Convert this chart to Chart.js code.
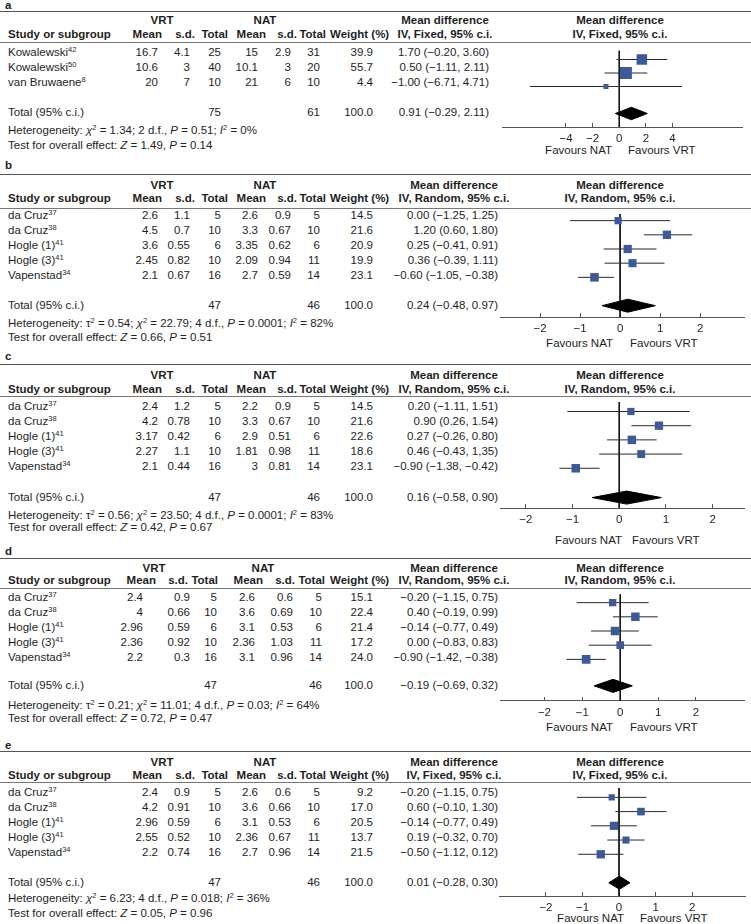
<!DOCTYPE html>
<html>
<head>
<meta charset="utf-8">
<script src="https://cdn.jsdelivr.net/npm/chart.js@4.4.0/dist/chart.umd.min.js"></script>
<style>
body { margin: 0; background: #fff; }
#page { position: relative; width: 751px; height: 924px; overflow: hidden;
  font-family: "Liberation Sans", Arial, sans-serif; font-size: 11.5px; color: #1e1e1e; }
.t { position: absolute; white-space: nowrap; line-height: 14px; height: 14px; }
.b { font-weight: bold; }
.t sup { font-size: 7.5px; line-height: 0; vertical-align: 4px; }
.rule { position: absolute; left: 0; width: 751px; }
.plot { position: absolute; left: 494px; width: 257px; }
</style>
</head>
<body>
<div id="page"></div>
<script>
// ---- data ----
const studiesA = ["Kowalewski", "Kowalewski", "van Bruwaene"];
const refsA = ["42", "50", "8"];
const vrtA = [["16.7", "4.1", "25"], ["10.6", "3", "40"], ["20", "7", "10"]];
const natA = [["15", "2.9", "31"], ["10.1", "3", "20"], ["21", "6", "10"]];
const weightA = [39.9, 55.7, 4.4];
const mdTxtA = ["1.70 (−0.20, 3.60)", "0.50 (−1.11, 2.11)", "−1.00 (−6.71, 4.71)", "0.91 (−0.29, 2.11)"];
const mdA = [1.70, 0.50, -1.00];
const loA = [-0.20, -1.11, -6.71];
const hiA = [3.60, 2.11, 4.71];
const totalA = [0.91, -0.29, 2.11];
const nA = ["75", "61"];
const hetA = 'Heterogeneity: <i>χ</i><sup>2</sup> = 1.34; 2 d.f., <i>P</i> = 0.51; <i>I</i><sup>2</sup> = 0%';
const testA = 'Test for overall effect: <i>Z</i> = 1.49, <i>P</i> = 0.14';
const ticksA = [-4, -2, 0, 2, 4];

const studies5 = ["da Cruz", "da Cruz", "Hogle (1)", "Hogle (3)", "Vapenstad"];
const refs5 = ["37", "38", "41", "41", "34"];
const n5 = ["47", "46"];
const ticks5 = [-2, -1, 0, 1, 2];

const vrtB = [["2.6", "1.1", "5"], ["4.5", "0.7", "10"], ["3.6", "0.55", "6"], ["2.45", "0.82", "10"], ["2.1", "0.67", "16"]];
const natB = [["2.6", "0.9", "5"], ["3.3", "0.67", "10"], ["3.35", "0.62", "6"], ["2.09", "0.94", "11"], ["2.7", "0.59", "14"]];
const weightB = [14.5, 21.6, 20.9, 19.9, 23.1];
const mdTxtB = ["0.00 (−1.25, 1.25)", "1.20 (0.60, 1.80)", "0.25 (−0.41, 0.91)", "0.36 (−0.39, 1.11)", "−0.60 (−1.05, −0.38)", "0.24 (−0.48, 0.97)"];
const mdB = [-0.05, 1.17, 0.19, 0.31, -0.64];
const loB = [-1.25, 0.60, -0.41, -0.39, -1.05];
const hiB = [1.25, 1.80, 0.91, 1.11, -0.15];
const totalB = [0.19, -0.45, 0.88];
const hetB = 'Heterogeneity: τ<sup>2</sup> = 0.54; <i>χ</i><sup>2</sup> = 22.79; 4 d.f., <i>P</i> = 0.0001; <i>I</i><sup>2</sup> = 82%';
const testB = 'Test for overall effect: <i>Z</i> = 0.66, <i>P</i> = 0.51';

const vrtC = [["2.4", "1.2", "5"], ["4.2", "0.78", "10"], ["3.17", "0.42", "6"], ["2.27", "1.1", "10"], ["2.1", "0.44", "16"]];
const natC = [["2.2", "0.9", "5"], ["3.3", "0.67", "10"], ["2.9", "0.51", "6"], ["1.81", "0.98", "11"], ["3", "0.81", "14"]];
const weightC = [14.5, 21.6, 22.6, 18.6, 23.1];
const mdTxtC = ["0.20 (−1.11, 1.51)", "0.90 (0.26, 1.54)", "0.27 (−0.26, 0.80)", "0.46 (−0.43, 1,35)", "−0.90 (−1.38, −0.42)", "0.16 (−0.58, 0.90)"];
const mdC = [0.25, 0.85, 0.27, 0.47, -0.93];
const loC = [-1.11, 0.26, -0.26, -0.43, -1.28];
const hiC = [1.51, 1.54, 0.80, 1.35, -0.42];
const totalC = [0.16, -0.58, 0.90];
const hetC = 'Heterogeneity: τ<sup>2</sup> = 0.56; <i>χ</i><sup>2</sup> = 23.50; 4 d.f., <i>P</i> = 0.0001; <i>I</i><sup>2</sup> = 83%';
const testC = 'Test for overall effect: <i>Z</i> = 0.42, <i>P</i> = 0.67';

const vrtD = [["2.4", "0.9", "5"], ["4", "0.66", "10"], ["2.96", "0.59", "6"], ["2.36", "0.92", "10"], ["2.2", "0.3", "16"]];
const natD = [["2.6", "0.6", "5"], ["3.6", "0.69", "10"], ["3.1", "0.53", "6"], ["2.36", "1.03", "11"], ["3.1", "0.96", "14"]];
const weightD = [15.1, 22.4, 21.4, 17.2, 24.0];
const mdTxtD = ["−0.20 (−1.15, 0.75)", "0.40 (−0.19, 0.99)", "−0.14 (−0.77, 0.49)", "0.00 (−0.83, 0.83)", "−0.90 (−1.42, −0.38)", "−0.19 (−0.69, 0.32)"];
const mdD = [-0.20, 0.40, -0.14, 0.00, -0.90];
const loD = [-1.15, -0.19, -0.77, -0.83, -1.42];
const hiD = [0.75, 0.99, 0.49, 0.83, -0.38];
const totalD = [-0.19, -0.69, 0.32];
const hetD = 'Heterogeneity: τ<sup>2</sup> = 0.21; <i>χ</i><sup>2</sup> = 11.01; 4 d.f., <i>P</i> = 0.03; <i>I</i><sup>2</sup> = 64%';
const testD = 'Test for overall effect: <i>Z</i> = 0.72, <i>P</i> = 0.47';

const vrtE = [["2.4", "0.9", "5"], ["4.2", "0.91", "10"], ["2.96", "0.59", "6"], ["2.55", "0.52", "10"], ["2.2", "0.74", "16"]];
const natE = [["2.6", "0.6", "5"], ["3.6", "0.66", "10"], ["3.1", "0.53", "6"], ["2.36", "0.67", "11"], ["2.7", "0.96", "14"]];
const weightE = [9.2, 17.0, 20.5, 13.7, 21.5];
const mdTxtE = ["−0.20 (−1.15, 0.75)", "0.60 (−0.10, 1.30)", "−0.14 (−0.77, 0.49)", "0.19 (−0.32, 0.70)", "−0.50 (−1.12, 0.12)", "0.01 (−0.28, 0.30)"];
const mdE = [-0.20, 0.60, -0.14, 0.19, -0.50];
const loE = [-1.15, -0.10, -0.77, -0.32, -1.12];
const hiE = [0.75, 1.30, 0.49, 0.70, 0.12];
const totalE = [0.01, -0.28, 0.30];
const hetE = 'Heterogeneity: <i>χ</i><sup>2</sup> = 6.23; 4 d.f., <i>P</i> = 0.018; <i>I</i><sup>2</sup> = 36%';
const testE = 'Test for overall effect: <i>Z</i> = 0.05, <i>P</i> = 0.96';

// ---- page positions (px) ----
// value columns are right edges; the last header (Weight) is a left edge
const COLS = [158, 190, 221, 258, 291, 320, 373];
const HDRS = [162, 195, 228, 266, 297, 326, 330];
const LAYOUT = [
  { letterY: 5, topRule: 12, vrtY: 20, hdrY: 34, hdrRule: 42, row0: 52, totalY: 112, hetY: 130, testY: 145,
    axisY: 127, favY: 150, natR: 612, vrtL: 628, xMin: -8.77, xMax: 9.26, mdR: 489, cols: COLS, hdrs: HDRS, vrtC: 162, natC: 265 },
  { letterY: 165, topRule: 175, vrtY: 185, hdrY: 198, hdrRule: 208, row0: 215, totalY: 305, hetY: 323, testY: 337,
    axisY: 317, favY: 343, natR: 613, vrtL: 630, xMin: -3.0, xMax: 3.12, mdR: 498, cols: COLS, hdrs: HDRS, vrtC: 162, natC: 265 },
  { letterY: 356, topRule: 365, vrtY: 375, hdrY: 389, hdrRule: 396, row0: 406, totalY: 497, hetY: 515, testY: 527,
    axisY: 508, favY: 540, natR: 622, vrtL: 632, xMin: -2.55, xMax: 2.69, mdR: 498, cols: COLS, hdrs: HDRS, vrtC: 162, natC: 265 },
  { letterY: 551, topRule: 559, vrtY: 568, hdrY: 580, hdrRule: 588, row0: 597, totalY: 685, hetY: 705, testY: 718,
    axisY: 701, favY: 727, natR: 613, vrtL: 630, xMin: -3.17, xMax: 3.29, mdR: 498,
    cols: [143, 190, 217, 255, 293, 322, 373], hdrs: [156, 188, 218, 263, 295, 325, 330], vrtC: 154, natC: 263 },
  { letterY: 745, topRule: 752, vrtY: 762, hdrY: 775, hdrRule: 782, row0: 792, totalY: 882, hetY: 898, testY: 913,
    axisY: 896, favY: 918, natR: 624, vrtL: 640, xMin: -3.26, xMax: 3.45, mdR: 498, cols: COLS, hdrs: HDRS, vrtC: 162, natC: 265 }
];

const PANELS = [
  { id: "a", model: "Fixed", studies: studiesA, refs: refsA, vrt: vrtA, nat: natA, weight: weightA, mdTxt: mdTxtA,
    md: mdA, lo: loA, hi: hiA, total: totalA, n: nA, het: hetA, test: testA, ticks: ticksA },
  { id: "b", model: "Random", studies: studies5, refs: refs5, vrt: vrtB, nat: natB, weight: weightB, mdTxt: mdTxtB,
    md: mdB, lo: loB, hi: hiB, total: totalB, n: n5, het: hetB, test: testB, ticks: ticks5 },
  { id: "c", model: "Random", studies: studies5, refs: refs5, vrt: vrtC, nat: natC, weight: weightC, mdTxt: mdTxtC,
    md: mdC, lo: loC, hi: hiC, total: totalC, n: n5, het: hetC, test: testC, ticks: ticks5 },
  { id: "d", model: "Random", studies: studies5, refs: refs5, vrt: vrtD, nat: natD, weight: weightD, mdTxt: mdTxtD,
    md: mdD, lo: loD, hi: hiD, total: totalD, n: n5, het: hetD, test: testD, ticks: ticks5 },
  { id: "e", model: "Fixed", studies: studies5, refs: refs5, vrt: vrtE, nat: natE, weight: weightE, mdTxt: mdTxtE,
    md: mdE, lo: loE, hi: hiE, total: totalE, n: n5, het: hetE, test: testE, ticks: ticks5 }
];

const FONT = '"Liberation Sans", Arial, sans-serif';
const BLUE = "#3c5a9a";
const page = document.getElementById("page");

function put(x, y, html, align, bold) {
  const d = document.createElement("div");
  d.className = "t" + (bold ? " b" : "");
  d.innerHTML = html;
  d.style.top = (y - 7) + "px";
  if (align === "r") {
    d.style.left = (x - 300) + "px"; d.style.width = "300px"; d.style.textAlign = "right";
  } else if (align === "c") {
    d.style.left = (x - 150) + "px"; d.style.width = "300px"; d.style.textAlign = "center";
  } else {
    d.style.left = x + "px";
  }
  page.appendChild(d);
}

function rule(y, w, c) {
  const d = document.createElement("div");
  d.className = "rule";
  d.style.top = y + "px";
  d.style.borderTop = w + "px solid " + c;
  page.appendChild(d);
}

function tickText(v) {
  if (v === 0) return "0";
  return v < 0 ? "\u2212" + Math.abs(v) : String(v);
}

PANELS.forEach((p, k) => {
  const L = LAYOUT[k];
  put(5, L.letterY, p.id, "l", true);
  rule(L.topRule - 1, 1.5, "#555");
  rule(L.hdrRule, 1, "#777");

  // headers
  put(L.vrtC, L.vrtY, "VRT", "c", true);
  put(L.natC, L.vrtY, "NAT", "c", true);
  put(8, L.hdrY, "Study or subgroup", "l", true);
  ["Mean", "s.d.", "Total", "Mean", "s.d.", "Total"].forEach((h, j) => put(L.hdrs[j], L.hdrY, h, "r", true));
  put(L.hdrs[6], L.hdrY, "Weight (%)", "l", true);
  put(L.mdR - 44, L.vrtY, "Mean difference", "c", true);
  put(L.mdR - 44, L.hdrY, "IV, " + p.model + ", 95% c.i.", "c", true);
  put(620, L.vrtY, "Mean difference", "c", true);
  put(620, L.hdrY, "IV, " + p.model + ", 95% c.i.", "c", true);

  // study rows
  p.studies.forEach((s, i) => {
    const y = L.row0 + 15 * i;
    put(8, y, s + "<sup>" + p.refs[i] + "</sup>", "l");
    const cells = p.vrt[i].concat(p.nat[i], [p.weight[i].toFixed(1)]);
    cells.forEach((c, j) => put(L.cols[j], y, c, "r"));
    put(L.mdR, y, p.mdTxt[i], "r");
  });
  put(8, L.totalY, "Total (95% c.i.)", "l");
  put(L.cols[2], L.totalY, p.n[0], "r");
  put(L.cols[5], L.totalY, p.n[1], "r");
  put(L.cols[6], L.totalY, "100.0", "r");
  put(L.mdR, L.totalY, p.mdTxt[p.studies.length], "r");
  put(8, L.hetY, p.het, "l");
  put(8, L.testY, p.test, "l");
  put(L.natR, L.favY, "Favours NAT", "r");
  put(L.vrtL, L.favY, "Favours VRT", "l");

  // forest plot
  const box = document.createElement("div");
  box.className = "plot";
  box.style.top = L.hdrRule + "px";
  box.style.height = (L.axisY - L.hdrRule + 18) + "px";
  const cv = document.createElement("canvas");
  box.appendChild(cv);
  page.appendChild(box);

  const yMin = (L.hdrRule - L.row0) / 15;
  const yMax = (L.axisY - L.row0) / 15;
  const yTot = (L.totalY - L.row0) / 15;

  const datasets = [];
  datasets.push({
    data: p.md.map((m, i) => ({ x: m, y: i })),
    pointStyle: "rect",
    pointRadius: p.weight.map(w => (2.25 + 1.31 * Math.sqrt(w)) / Math.SQRT2),
    backgroundColor: BLUE, borderWidth: 0, order: 0
  });
  datasets.push({
    data: [
      { x: p.total[1], y: yTot }, { x: p.total[0], y: yTot - 0.46 },
      { x: p.total[2], y: yTot }, { x: p.total[0], y: yTot + 0.46 }, { x: p.total[1], y: yTot }
    ],
    showLine: true, fill: "shape", tension: 0, pointRadius: 0,
    borderColor: "#000", backgroundColor: "#000", borderWidth: 1, order: 1
  });
  p.md.forEach((m, i) => {
    datasets.push({
      data: [{ x: p.lo[i], y: i }, { x: p.hi[i], y: i }],
      showLine: true, pointRadius: 0, borderColor: "#2a2a2a", borderWidth: 1, order: 2
    });
  });
  datasets.push({
    data: [{ x: 0, y: yMin }, { x: 0, y: yMax }],
    showLine: true, pointRadius: 0, borderColor: "#111", borderWidth: 1, order: 3
  });

  new Chart(cv.getContext("2d"), {
    type: "scatter",
    data: { datasets },
    options: {
      responsive: true, maintainAspectRatio: false, animation: false,
      layout: { padding: 0 },
      plugins: { legend: { display: false }, tooltip: { enabled: false } },
      scales: {
        x: {
          type: "linear", min: L.xMin, max: L.xMax,
          afterBuildTicks: ax => { ax.ticks = p.ticks.map(v => ({ value: v })); },
          afterFit: s => { s.height = 18; },
          grid: { drawOnChartArea: false, tickLength: -4, color: "#555", lineWidth: 1 },
          border: { color: "#555", width: 1 },
          ticks: { padding: 9, color: "#1e1e1e", font: { family: FONT, size: 11.5 }, callback: v => tickText(v) }
        },
        y: { type: "linear", min: yMin, max: yMax, reverse: true, display: false }
      }
    }
  });
});
</script>
</body>
</html>
